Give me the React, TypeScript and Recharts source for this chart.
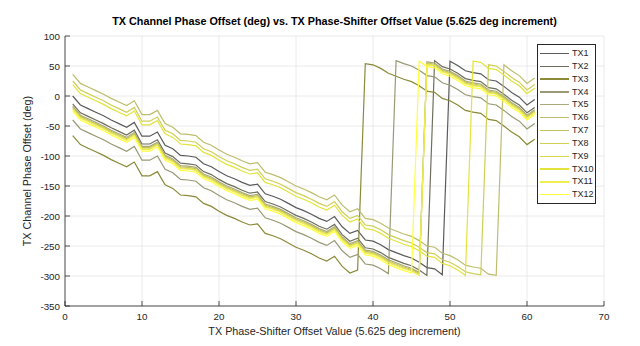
import { LineChart, Line, XAxis, YAxis, CartesianGrid, Legend } from "recharts";

// phase-shifter code index (x)
const X_VALUES = [1, 2, 3, 4, 5, 6, 7, 8, 9, 10, 11, 12, 13, 14, 15, 16, 17, 18, 19, 20, 21, 22, 23, 24, 25, 26, 27, 28, 29, 30, 31, 32, 33, 34, 35, 36, 37, 38, 39, 40, 41, 42, 43, 44, 45, 46, 47, 48, 49, 50, 51, 52, 53, 54, 55, 56, 57, 58, 59, 60, 61];

// measured phase offset per channel (deg), wrapped
const TX1 = [0, -15, -21, -27, -33, -40, -46, -52, -44, -67, -67, -60, -82, -88, -99, -100, -102, -113, -118, -126, -133, -138, -144, -149, -147, -163, -167, -172, -179, -186, -191, -197, -204, -209, -201, -218, -229, -224, -240, -242, -248, -256, -261, -266, -270, -277, -286, -288, -298, 58, 51, 42, 39, 37, 27, 25, 16, 6, -2, -15, -6];
const TX2 = [-13, -28, -34, -40, -46, -53, -59, -65, -57, -80, -80, -73, -95, -101, -112, -113, -115, -126, -131, -139, -146, -151, -157, -162, -160, -176, -180, -185, -192, -199, -204, -210, -217, -222, -214, -231, -242, -237, -253, -255, -261, -269, -274, -279, -283, -290, -299, 59, 49, 45, 38, 29, 26, 24, 14, 12, 3, -7, -15, -28, -19];
const TX3 = [-66, -81, -87, -93, -99, -106, -112, -118, -110, -133, -133, -126, -148, -154, -165, -166, -168, -179, -184, -192, -199, -204, -210, -215, -213, -229, -233, -238, -245, -252, -257, -263, -270, -275, -267, -284, -295, -290, 54, 52, 46, 38, 33, 28, 24, 17, 8, 6, -4, -8, -15, -24, -27, -29, -39, -41, -50, -60, -68, -81, -72];
const TX4 = [-40, -55, -61, -67, -73, -80, -86, -92, -84, -107, -107, -100, -122, -128, -139, -140, -142, -153, -158, -166, -173, -178, -184, -189, -187, -203, -207, -212, -219, -226, -231, -237, -244, -249, -241, -258, -269, -264, -280, -282, -288, -296, 59, 54, 50, 43, 34, 32, 22, 18, 11, 2, -1, -3, -13, -15, -24, -34, -42, -55, -46];
const TX5 = [-17, -32, -38, -44, -50, -57, -63, -69, -61, -84, -84, -77, -99, -105, -116, -117, -119, -130, -135, -143, -150, -155, -161, -166, -164, -180, -184, -189, -196, -203, -208, -214, -221, -226, -218, -235, -246, -241, -257, -259, -265, -273, -278, -283, -287, -294, 57, 55, 45, 41, 34, 25, 22, 20, 10, 8, -1, -11, -19, -32, -23];
const TX6 = [36, 21, 15, 9, 3, -4, -10, -16, -8, -31, -31, -24, -46, -52, -63, -64, -66, -77, -82, -90, -97, -102, -108, -113, -111, -127, -131, -136, -143, -150, -155, -161, -168, -173, -165, -182, -193, -188, -204, -206, -212, -220, -225, -230, -234, -241, -250, -252, -262, -266, -273, -282, -285, -287, -297, -299, 52, 42, 34, 21, 30];
const TX7 = [-19, -34, -40, -46, -52, -59, -65, -71, -63, -86, -86, -79, -101, -107, -118, -119, -121, -132, -137, -145, -152, -157, -163, -168, -166, -182, -186, -191, -198, -205, -210, -216, -223, -228, -220, -237, -248, -243, -259, -261, -267, -275, -280, -285, -289, -296, 55, 53, 43, 39, 32, 23, 20, 18, 8, 6, -3, -13, -21, -34, -25];
const TX8 = [25, 10, 4, -2, -8, -15, -21, -27, -19, -42, -42, -35, -57, -63, -74, -75, -77, -88, -93, -101, -108, -113, -119, -124, -122, -138, -142, -147, -154, -161, -166, -172, -179, -184, -176, -193, -204, -199, -215, -217, -223, -231, -236, -241, -245, -252, -261, -263, -273, -277, -284, -293, -296, -298, 52, 50, 41, 31, 23, 10, 19];
const TX9 = [-21, -36, -42, -48, -54, -61, -67, -73, -65, -88, -88, -81, -103, -109, -120, -121, -123, -134, -139, -147, -154, -159, -165, -170, -168, -184, -188, -193, -200, -207, -212, -218, -225, -230, -222, -239, -250, -245, -261, -263, -269, -277, -282, -287, -291, -298, 53, 51, 41, 37, 30, 21, 18, 16, 6, 4, -5, -15, -23, -36, -27];
const TX10 = [19, 4, -2, -8, -14, -21, -27, -33, -25, -48, -48, -41, -63, -69, -80, -81, -83, -94, -99, -107, -114, -119, -125, -130, -128, -144, -148, -153, -160, -167, -172, -178, -185, -190, -182, -199, -210, -205, -221, -223, -229, -237, -242, -247, -251, -258, -267, -269, -279, -283, -290, -299, 58, 56, 46, 44, 35, 25, 17, 4, 13];
const TX11 = [-22, -37, -43, -49, -55, -62, -68, -74, -66, -89, -89, -82, -104, -110, -121, -122, -124, -135, -140, -148, -155, -160, -166, -171, -169, -185, -189, -194, -201, -208, -213, -219, -226, -231, -223, -240, -251, -246, -262, -264, -270, -278, -283, -288, -292, -299, 52, 50, 40, 36, 29, 20, 17, 15, 5, 3, -6, -16, -24, -37, -28];
const TX12 = [-25, -40, -46, -52, -58, -65, -71, -77, -69, -92, -92, -85, -107, -113, -124, -125, -127, -138, -143, -151, -158, -163, -169, -174, -172, -188, -192, -197, -204, -211, -216, -222, -229, -234, -226, -243, -254, -249, -265, -267, -273, -281, -286, -291, -295, 58, 49, 47, 37, 33, 26, 17, 14, 12, 2, 0, -9, -19, -27, -40, -31];

const SERIES = [
  { key: "TX1", values: TX1, color: "#5b5b5b" },
  { key: "TX2", values: TX2, color: "#6f6f5e" },
  { key: "TX3", values: TX3, color: "#8a8a38" },
  { key: "TX4", values: TX4, color: "#999975" },
  { key: "TX5", values: TX5, color: "#a9a97a" },
  { key: "TX6", values: TX6, color: "#bdbd6e" },
  { key: "TX7", values: TX7, color: "#c2c25e" },
  { key: "TX8", values: TX8, color: "#cfcf55" },
  { key: "TX9", values: TX9, color: "#d9d94a" },
  { key: "TX10", values: TX10, color: "#e3e33c" },
  { key: "TX11", values: TX11, color: "#efef52" },
  { key: "TX12", values: TX12, color: "#ffff3c" },
];

const X_TICKS = [0, 10, 20, 30, 40, 50, 60, 70];
const Y_TICKS = [-350, -300, -250, -200, -150, -100, -50, 0, 50, 100];

const data = X_VALUES.map((x, i) => {
  const row: any = { x };
  SERIES.forEach((s) => { row[s.key] = s.values[i]; });
  return row;
});

const INK = "#262626";
const FONT = "'Liberation Sans', Arial, Helvetica, sans-serif";

const BottomTick = ({ x, y, payload }: any) => (
  <g>
    <line x1={x} x2={x} y1={y} y2={y - 5} stroke={INK} strokeWidth={0.8} />
    <text x={x} y={y + 10} textAnchor="middle" dominantBaseline="central" fill={INK} fontSize={9.8} fontFamily={FONT}>{payload.value}</text>
  </g>
);
const LeftTick = ({ x, y, payload }: any) => (
  <g>
    <line x1={x} x2={x + 5} y1={y} y2={y} stroke={INK} strokeWidth={0.8} />
    <text x={x - 5} y={y} textAnchor="end" dominantBaseline="central" fill={INK} fontSize={9.8} fontFamily={FONT}>{payload.value}</text>
  </g>
);
const TopTick = ({ x, y }: any) => <line x1={x} x2={x} y1={y} y2={y + 5} stroke={INK} strokeWidth={0.8} />;
const RightTick = ({ x, y }: any) => <line x1={x - 5} x2={x} y1={y} y2={y} stroke={INK} strokeWidth={0.8} />;

// legend keeps the plotting order TX1..TX12
const LegendBox = () => (
  <div style={{ width: 57, height: 156, border: "1px solid #262626", background: "#fff", paddingTop: 2, boxSizing: "content-box" }}>
    {SERIES.map((s) => (
      <div key={s.key} style={{ display: "flex", alignItems: "center", height: 12.85 }}>
        <div style={{ width: 29, height: 1.3, background: s.color, marginLeft: 2, marginRight: 3 }} />
        <span style={{ fontSize: 9, color: INK, fontFamily: FONT, lineHeight: "12.85px" }}>{s.key}</span>
      </div>
    ))}
  </div>
);

export default function App() {
  return (
    <div style={{ position: "absolute", left: 0, top: 0, width: 640, height: 346, background: "#fff", fontFamily: FONT }}>
      <div style={{ position: "absolute", left: 0, width: 669, top: 15, textAlign: "center", fontSize: 10.8, fontWeight: 700, color: "#000", lineHeight: "12px", whiteSpace: "nowrap" }}>
        TX Channel Phase Offset (deg) vs. TX Phase-Shifter Offset Value (5.625 deg increment)
      </div>
      <LineChart width={640} height={346} data={data} margin={{ top: 36, right: 36, bottom: 20, left: 5 }}>
        <CartesianGrid stroke="#e4e4e4" strokeWidth={0.8} />
        <XAxis dataKey="x" type="number" domain={[0, 70]} ticks={X_TICKS} height={20} tickSize={0} tickMargin={0}
          axisLine={{ stroke: INK, strokeWidth: 0.8 }} tickLine={false} tick={<BottomTick />} interval={0} />
        <YAxis type="number" domain={[-350, 100]} ticks={Y_TICKS} width={60} tickSize={0} tickMargin={0}
          axisLine={{ stroke: INK, strokeWidth: 0.8 }} tickLine={false} tick={<LeftTick />} interval={0} />
        <XAxis xAxisId="top" orientation="top" type="number" domain={[0, 70]} ticks={X_TICKS} height={0} tickSize={0} tickMargin={0}
          axisLine={{ stroke: INK, strokeWidth: 0.8 }} tickLine={false} tick={<TopTick />} interval={0} allowDataOverflow />
        <YAxis yAxisId="right" orientation="right" type="number" domain={[-350, 100]} ticks={Y_TICKS} width={0} tickSize={0} tickMargin={0}
          axisLine={{ stroke: INK, strokeWidth: 0.8 }} tickLine={false} tick={<RightTick />} interval={0} allowDataOverflow />
        <Legend layout="vertical" align="center" verticalAlign="middle" content={<LegendBox />}
          wrapperStyle={{ left: 537, top: 44, width: 59, height: 160 }} />
        {SERIES.map((s) => (
          <Line key={s.key} dataKey={s.key} name={s.key} stroke={s.color} strokeWidth={1.2} dot={false} type="linear" isAnimationActive={false} />
        ))}
      </LineChart>
      <div style={{ position: "absolute", left: 65, width: 539, top: 325, textAlign: "center", fontSize: 10.8, color: INK, lineHeight: "13px", whiteSpace: "nowrap" }}>
        TX Phase-Shifter Offset Value (5.625 deg increment)
      </div>
      <div style={{ position: "absolute", left: 27, top: 171, transform: "translate(-50%, -50%) rotate(-90deg)", fontSize: 10.8, color: INK, lineHeight: "13px", whiteSpace: "nowrap" }}>
        TX Channel Phase Offset (deg)
      </div>
    </div>
  );
}
